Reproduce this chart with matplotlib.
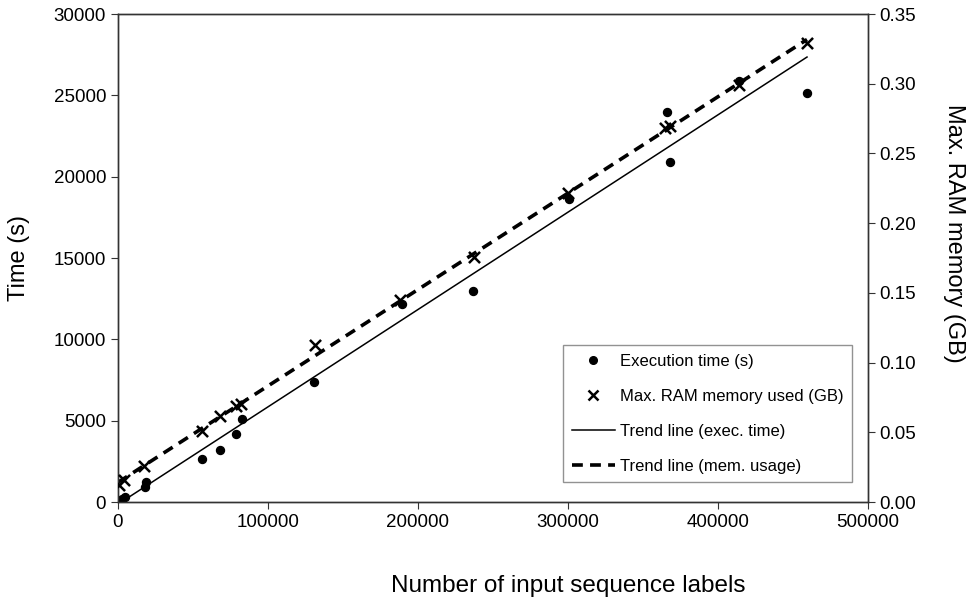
import numpy as np
import matplotlib
matplotlib.use('Agg')
import matplotlib.pyplot as plt
from matplotlib.lines import Line2D

plt.rcParams['font.family'] = ['Liberation Sans', 'DejaVu Sans']

# Execution time (s) vs number of input sequence labels
labels_time = [0, 1000, 3000, 5000, 18000, 18500, 56000, 68000, 78500, 82700,
               130900, 189600, 236900, 301000, 366000, 368000, 414000, 459500]
exec_time = [0, 50, 200, 300, 920, 1230, 2640, 3190, 4175, 5100,
             7370, 12150, 13000, 18600, 24000, 20900, 25900, 25170]

# Max. RAM memory (GB) vs number of input sequence labels
labels_mem = [1000, 4000, 17500, 56000, 68000, 79000, 82000,
              131300, 188000, 237300, 300000, 365000, 368000, 414000, 459500]
mem_used = [0.012, 0.016, 0.0258, 0.051, 0.0617, 0.0689, 0.0703,
            0.1126, 0.1449, 0.1757, 0.2216, 0.268, 0.270, 0.299, 0.3293]

fig = plt.figure(figsize=(9.75, 5.98), dpi=100)
ax = fig.add_axes([0.121, 0.1605, 0.769, 0.816])
ax2 = ax.twinx()

ax.scatter(labels_time, exec_time, s=33, color='black', zorder=3)
ax2.scatter(labels_mem, mem_used, s=64, marker='x', color='black', linewidths=1.8, zorder=3)

# trend lines
xt = np.array([min(labels_time), max(labels_time)])
p1 = np.polyfit(labels_time, exec_time, 1)
ax.plot(xt, np.polyval(p1, xt), color='black', lw=1.1)
xm = np.array([0, max(labels_mem)])
p2 = np.polyfit(labels_mem, mem_used, 1)
ax2.plot(xm, np.polyval(p2, xm), color='black', lw=2.6, ls=(0, (3, 2)))

ax.set_xlim(0, 500000)
ax.set_ylim(0, 30000)
ax2.set_ylim(0, 0.35)
ax.set_xticks(np.arange(0, 500001, 100000))
ax.set_yticks(np.arange(0, 30001, 5000))
ax2.set_yticks(np.arange(0, 0.351, 0.05))
ax2.set_yticklabels(['%.2f' % v for v in np.arange(0, 0.351, 0.05)])

for a in (ax, ax2):
    a.tick_params(labelsize=13.5, length=5, direction='out', color='#333333')
    for s in a.spines.values():
        s.set_color('#333333')
        s.set_linewidth(1.0)

ax.set_xlabel('Number of input sequence labels', fontsize=17.5, labelpad=32)
ax.xaxis.label.set_x(0.6)
ax.set_ylabel('Time (s)', fontsize=17, labelpad=17)
ax2.set_ylabel('Max. RAM memory (GB)', fontsize=17, rotation=-90, labelpad=35)
ax2.yaxis.label.set_y(0.551)

handles = [
    Line2D([], [], marker='o', ls='none', color='black', markersize=5.5),
    Line2D([], [], marker='x', ls='none', color='black', markersize=7, markeredgewidth=1.8),
    Line2D([], [], color='black', lw=1.1),
    Line2D([], [], color='black', lw=2.6, ls=(0, (3, 2))),
]
names = ['Execution time (s)', 'Max. RAM memory used (GB)',
         'Trend line (exec. time)', 'Trend line (mem. usage)']
leg = ax2.legend(handles, names, loc='lower right', bbox_to_anchor=(0.979, 0.041),
                 fontsize=12, frameon=True, fancybox=False, edgecolor='#777777',
                 handlelength=2.6, handletextpad=0.3, labelspacing=1.2,
                 borderpad=0.5, borderaxespad=0)
leg.get_frame().set_linewidth(1.0)

fig.savefig('out.png', dpi=100)
